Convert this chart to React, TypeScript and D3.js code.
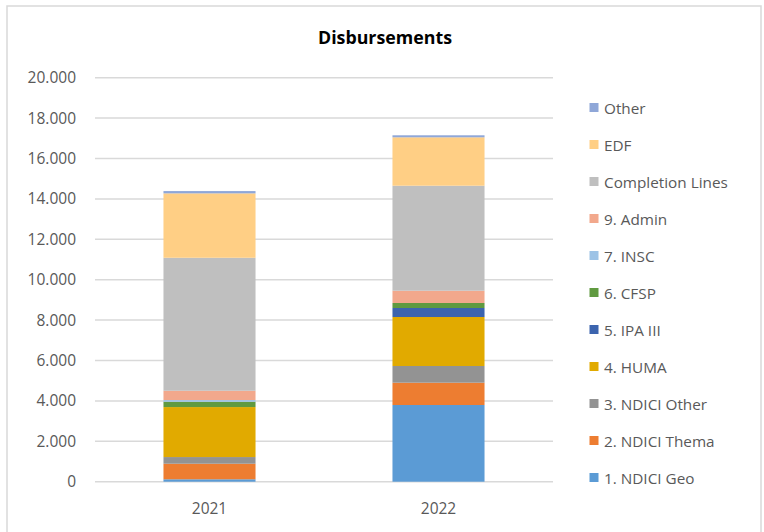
import React from "react";
import * as d3 from "d3";

const categories = ["2021", "2022"];
const seriesNames = [
  "1. NDICI Geo",
  "2. NDICI Thema",
  "3. NDICI Other",
  "4. HUMA",
  "5. IPA III",
  "6. CFSP",
  "7. INSC",
  "9. Admin",
  "Completion Lines",
  "EDF",
  "Other",
];
const geo = [120, 3797];
const thema = [770, 1104];
const ndiciOther = [330, 827];
const huma = [2475, 2425];
const ipa = [0, 446];
const cfsp = [262, 248];
const insc = [85, 0];
const admin = [460, 608];
const completion = [6584, 5198];
const edf = [3188, 2396];
const other = [113, 100];
const seriesValues = [geo, thema, ndiciOther, huma, ipa, cfsp, insc, admin, completion, edf, other];
const colors = [
  "#5B9BD5",
  "#ED7D31",
  "#939393",
  "#E1AA00",
  "#3C64AE",
  "#609A40",
  "#9DC3E6",
  "#F2A88C",
  "#BFBFBF",
  "#FFCF85",
  "#8FA7D8",
];
const yTicks = [0, 2000, 4000, 6000, 8000, 10000, 12000, 14000, 16000, 18000, 20000];

const W = 764;
const H = 532;
const font = "'Open Sans', 'Noto Sans', sans-serif";

const fmt = (v: number) => (v === 0 ? "0" : d3.format(",")(v).replace(/,/g, "."));

export default function App() {
  const y = d3.scaleLinear().domain([0, 20000]).range([481.7, 77.7]);
  const p = 0.598;
  const x = d3.scaleBand<string>().domain(categories).range([95, 553]).paddingInner(p).paddingOuter(p / 2);

  const rows = categories.map((c, i) => {
    const r: any = { cat: c };
    seriesNames.forEach((s, j) => (r[s] = seriesValues[j][i]));
    return r;
  });
  const stacked = d3.stack<any>().keys(seriesNames)(rows);

  const legendTop = 108;
  const legendStep = 37;

  return (
    <svg width={W} height={H} style={{ position: "absolute", left: 0, top: 0, background: "#fff" }}>
      <rect x={7} y={6} width={754} height={540} fill="#fff" stroke="#d9d9d9" strokeWidth={1.5} />
      <text x={385} y={44} textAnchor="middle" fontFamily={font} fontWeight="bold" fontSize={17.8} fill="#000">
        Disbursements
      </text>
      {yTicks.map((t) => (
        <g key={t}>
          <line x1={95} x2={553} y1={y(t)} y2={y(t)} stroke="#d9d9d9" strokeWidth={1.5} />
          <text x={76} y={y(t) + 5.5} textAnchor="end" fontFamily={font} fontSize={15.5} fill="#595959">
            {fmt(t)}
          </text>
        </g>
      ))}
      {stacked.map((layer, j) => (
        <g key={layer.key} fill={colors[j]}>
          {layer.map((d, i) => {
            const h = y(d[0]) - y(d[1]);
            if (h <= 0) return null;
            return (
              <rect key={i} x={x(categories[i])} y={y(d[1])} width={x.bandwidth()} height={h} />
            );
          })}
        </g>
      ))}
      {categories.map((c) => (
        <text
          key={c}
          x={(x(c) as number) + x.bandwidth() / 2}
          y={514}
          textAnchor="middle"
          fontFamily={font}
          fontSize={15.5}
          fill="#595959"
        >
          {c}
        </text>
      ))}
      {seriesNames
        .slice()
        .reverse()
        .map((s, k) => {
          const j = seriesNames.length - 1 - k;
          const cy = legendTop + k * legendStep;
          return (
            <g key={s}>
              <rect x={589.5} y={cy - 5} width={9} height={9} fill={colors[j]} />
              <text x={604} y={cy + 5.5} fontFamily={font} fontSize={15.3} fill="#595959">
                {s}
              </text>
            </g>
          );
        })}
    </svg>
  );
}
